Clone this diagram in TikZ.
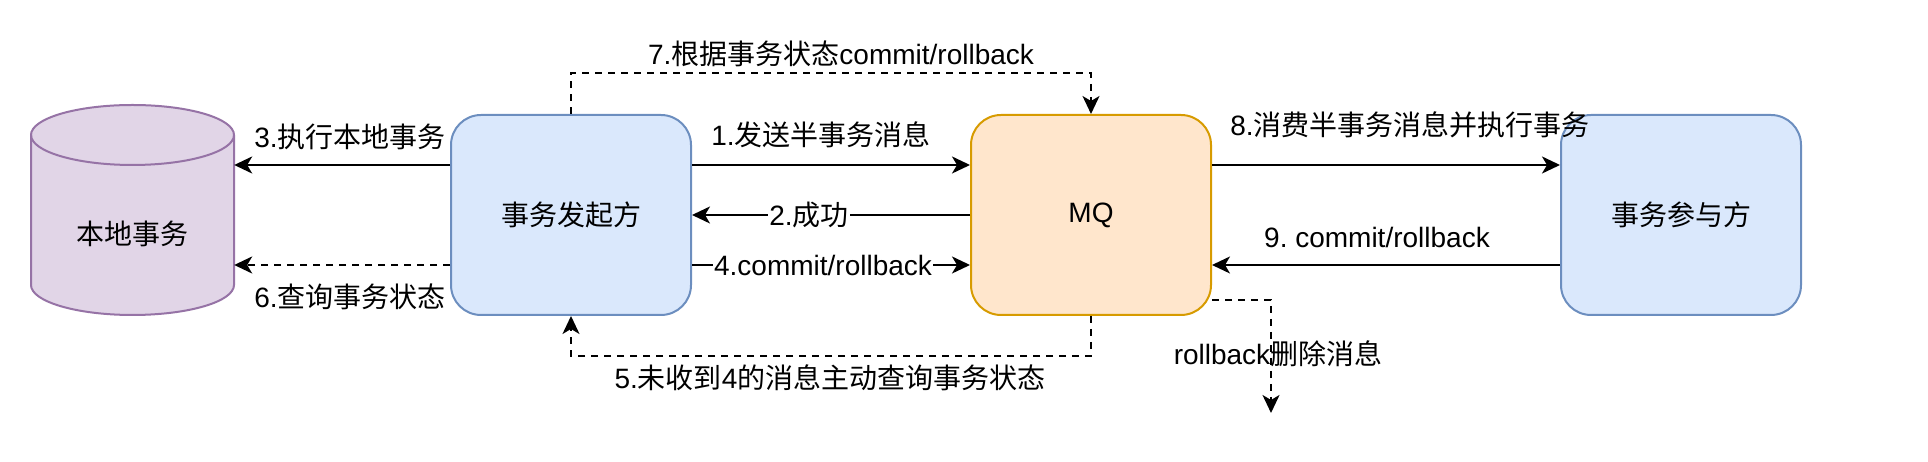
\documentclass[tikz,border=0pt]{standalone}
\usepackage{fontspec}
\setmainfont{Liberation Sans}
\newfontfamily\cjk{Noto Sans CJK SC}
\usetikzlibrary{arrows.meta}
\frenchspacing

\definecolor{blueFill}{HTML}{DAE8FC}
\definecolor{blueLine}{HTML}{6C8EBF}
\definecolor{orangeFill}{HTML}{FFE6CC}
\definecolor{orangeLine}{HTML}{D79B00}
\definecolor{purpleFill}{HTML}{E1D5E7}
\definecolor{purpleLine}{HTML}{9673A6}

\begin{document}
\begin{tikzpicture}[x=1pt,y=1pt,
    every node/.style={font=\fontsize{28pt}{34pt}\selectfont},
    party/.style={draw=blueLine,fill=blueFill,line width=2pt,rounded corners=30pt,
      minimum width=240pt,minimum height=200pt,inner sep=0pt},
    queue/.style={party,draw=orangeLine,fill=orangeFill},
    flow/.style={line width=2pt,-{Stealth[length=18pt,width=17pt,inset=5pt]}},
    back/.style={flow,dash pattern=on 7pt off 6pt},
    onlabel/.style={fill=white,inner sep=1pt}]
  \useasboundingbox (0,0) rectangle (1928,462);

  % local store, drawn as a cylinder
  \filldraw[draw=purpleLine,fill=purpleFill,line width=2pt]
    (31,327) -- (31,177) arc[start angle=180,end angle=360,x radius=101.5,y radius=30]
    -- (234,327) arc[start angle=0,end angle=180,x radius=101.5,y radius=30] -- cycle;
  \draw[purpleLine,line width=2pt]
    (31,327) arc[start angle=180,end angle=360,x radius=101.5,y radius=30];
  \node[minimum width=203pt,minimum height=150pt,inner sep=0pt] (db) at (132.5,228) {{\cjk 本地事务}};

  \node[party] (init) at (571,247) {{\cjk 事务发起方}};
  \node[queue] (mq) at (1091,247) {MQ};
  \node[party] (part) at (1681,247) {{\cjk 事务参与方}};
  \coordinate (drop) at (1271,49);

  \draw[flow] ([yshift=50pt]init.west) -- ([yshift=50pt]init.west -| db.east)
    node[midway,xshift=8pt,yshift=28pt] {3.{\cjk 执行本地事务}};
  \draw[back] ([yshift=-50pt]init.west) -- ([yshift=-50pt]init.west -| db.east)
    node[midway,xshift=8pt,yshift=-32pt] {6.{\cjk 查询事务状态}};

  \draw[flow] ([yshift=50pt]init.east) -- ([yshift=50pt]mq.west)
    node[midway,xshift=-10pt,yshift=30pt] {1.{\cjk 发送半事务消息}};
  \draw[flow] (mq.west) -- (init.east)
    node[midway,onlabel,xshift=-22pt] {2.{\cjk 成功}};
  \draw[flow] ([yshift=-50pt]init.east) -- ([yshift=-50pt]mq.west)
    node[midway,onlabel,xshift=-8pt] {4.commit/rollback};

  \draw[back] (init.north) -- ++(0,41) -| (mq.north)
    node[pos=0.25,xshift=10pt,yshift=19pt] {7.{\cjk 根据事务状态}commit/rollback};
  \draw[back] (mq.south) -- ++(0,-40) -| (init.south)
    node[pos=0.25,xshift=-1pt,yshift=-22pt] {5.{\cjk 未收到}4{\cjk 的消息主动查询事务状态}};

  \draw[flow] ([yshift=50pt]mq.east) -- ([yshift=50pt]part.west)
    node[midway,xshift=24pt,yshift=40pt] {8.{\cjk 消费半事务消息并执行事务}};
  \draw[flow] ([yshift=-50pt]part.west) -- ([yshift=-50pt]mq.east)
    node[midway,xshift=-9pt,yshift=28pt] {9. commit/rollback};

  \draw[back] ([yshift=-85pt]mq.east) -| (drop)
    node[pos=0.75,xshift=7pt,yshift=3pt] {rollback{\cjk 删除消息}};
\end{tikzpicture}
\end{document}
